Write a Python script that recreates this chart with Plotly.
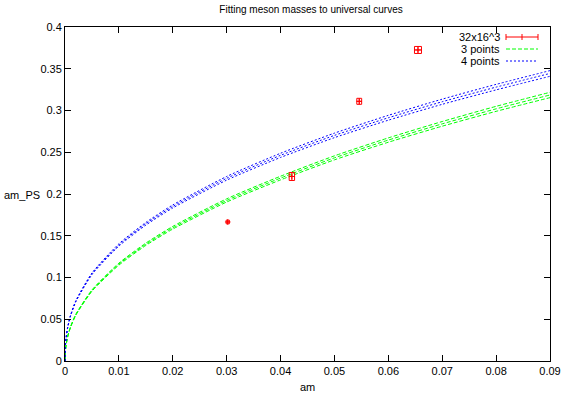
import plotly.graph_objects as go

# ---- data ----
pts_x = [0.0302, 0.0421, 0.0546, 0.0655]
pts_y = [0.1665, 0.2210, 0.3110, 0.3725]
pts_xerr = [0.0003, 0.0005, 0.00045, 0.00065]
pts_yerr = [0.0022, 0.0048, 0.0036, 0.0042]

curve_x = [0, 0.00005, 0.0002, 0.0005, 0.001, 0.002, 0.005, 0.01, 0.015, 0.02,
           0.03, 0.04, 0.05, 0.06, 0.07, 0.08, 0.09]
green_mid = [0, 0.0101, 0.0192, 0.0293, 0.0402, 0.0553, 0.0843, 0.1160, 0.1398, 0.1596,
             0.1923, 0.2191, 0.2433, 0.2646, 0.2840, 0.3020, 0.3186]
green_half = [0, 0.0001, 0.0002, 0.0003, 0.0004, 0.0006, 0.0008, 0.0012, 0.0014, 0.0016,
              0.0019, 0.0022, 0.0024, 0.0026, 0.0028, 0.0030, 0.0032]
blue_mid = [0, 0.0156, 0.0276, 0.0403, 0.0537, 0.0715, 0.1044, 0.1390, 0.1643, 0.1851,
            0.2188, 0.2463, 0.2702, 0.2913, 0.3105, 0.3280, 0.3444]
blue_half = [0, 0.0002, 0.0003, 0.0004, 0.0005, 0.0007, 0.0010, 0.0014, 0.0016, 0.0018,
             0.0022, 0.0025, 0.0027, 0.0029, 0.0031, 0.0033, 0.0034]

x_ticks = [0, 0.01, 0.02, 0.03, 0.04, 0.05, 0.06, 0.07, 0.08, 0.09]
y_ticks = [0, 0.05, 0.1, 0.15, 0.2, 0.25, 0.3, 0.35, 0.4]

series_names = ["32x16^3", "3 points", "4 points"]
title_text = "Fitting meson masses to universal curves"

FONT = "Liberation Sans, Arial, sans-serif"
RED, GREEN, BLUE = "#ff0000", "#00ff00", "#0000ff"
GDASH, BDASH = "4px,2px", "2px,2px"

# plot geometry (px)
W, H = 565, 394
L, R, T, B = 65, 550, 27, 361
XMAX, YMAX = 0.09, 0.4
px_per_x = (R - L) / XMAX
px_per_y = (B - T) / YMAX

fig = go.Figure()

for mids, halves, col, dash in [(green_mid, green_half, GREEN, GDASH),
                                (blue_mid, blue_half, BLUE, BDASH)]:
    for sgn in (1, 0, -1):
        ys = [m + sgn * h for m, h in zip(mids, halves)]
        fig.add_trace(go.Scatter(x=curve_x, y=ys, mode="lines",
                                 line=dict(color=col, width=1, dash=dash, shape="spline", smoothing=0.6),
                                 showlegend=False, hoverinfo="skip"))

for x, y, xe, ye in zip(pts_x, pts_y, pts_xerr, pts_yerr):
    fig.add_trace(go.Scatter(
        x=[x], y=[y], mode="markers",
        marker=dict(symbol="cross-thin", size=4, color=RED, line=dict(color=RED, width=1)),
        error_x=dict(type="data", array=[xe], color=RED, thickness=1, width=ye * px_per_y),
        error_y=dict(type="data", array=[ye], color=RED, thickness=1, width=xe * px_per_x),
        showlegend=False, hoverinfo="skip"))

def px2paper(px, py):
    return (px - L) / (R - L), (B - py) / (B - T)

shapes = []
annotations = []
# manual gnuplot-style legend
leg_rows = [37, 49, 61]
text_right = 502
s0, s1 = 506, 538
for name, py, col, dash in zip(series_names, leg_rows, [RED, GREEN, BLUE],
                               ["solid", GDASH, BDASH]):
    xa, ya = px2paper(text_right, py)
    annotations.append(dict(x=xa, y=ya, xref="paper", yref="paper", text=name, showarrow=False,
                            xanchor="right", yanchor="middle", font=dict(family=FONT, size=11, color="#000")))
    x0, y0 = px2paper(s0, py)
    x1, _ = px2paper(s1, py)
    shapes.append(dict(type="line", xref="paper", yref="paper", x0=x0, x1=x1, y0=y0, y1=y0,
                       line=dict(color=col, width=1, dash=dash)))
    if name == series_names[0]:
        for sx in (s0, (s0 + s1) / 2, s1):
            xx, ya0 = px2paper(sx, py - 3)
            _, ya1 = px2paper(sx, py + 3)
            shapes.append(dict(type="line", xref="paper", yref="paper", x0=xx, x1=xx, y0=ya0, y1=ya1,
                               line=dict(color=RED, width=1)))

annotations.append(dict(x=0.5, y=(B - 387) / (B - T), xref="paper", yref="paper", text="am",
                        showarrow=False, xanchor="center", yanchor="middle",
                        font=dict(family=FONT, size=11, color="#000")))
annotations.append(dict(x=(22 - L) / (R - L), y=(B - 195) / (B - T), xref="paper", yref="paper",
                        text="am_PS", showarrow=False, xanchor="center", yanchor="middle",
                        font=dict(family=FONT, size=11, color="#000")))

axis_common = dict(showgrid=False, zeroline=False, showline=True, linecolor="#000", linewidth=1,
                   mirror="ticks", ticks="inside", ticklen=6, tickcolor="#000", automargin=False,
                   tickfont=dict(family=FONT, size=11, color="#000"))

fig.update_layout(
    template="none",
    width=W, height=H,
    margin=dict(l=L, r=W - R, t=T, b=H - B, pad=0),
    paper_bgcolor="#fff", plot_bgcolor="#fff",
    title=dict(text=title_text, x=311 / W, xanchor="center", y=1 - 9 / H, yanchor="middle",
               font=dict(family=FONT, size=10, color="#000")),
    xaxis=dict(range=[0, XMAX], tickvals=x_ticks, ticktext=[f"{v:g}" for v in x_ticks], **axis_common),
    yaxis=dict(range=[0, YMAX], tickvals=y_ticks, ticktext=[f"{v:g}" for v in y_ticks], **axis_common),
    shapes=shapes, annotations=annotations, showlegend=False,
)

fig.write_html("out.html", config={"displayModeBar": False},
               post_script="document.body.style.margin='0';document.body.style.padding='0';")
